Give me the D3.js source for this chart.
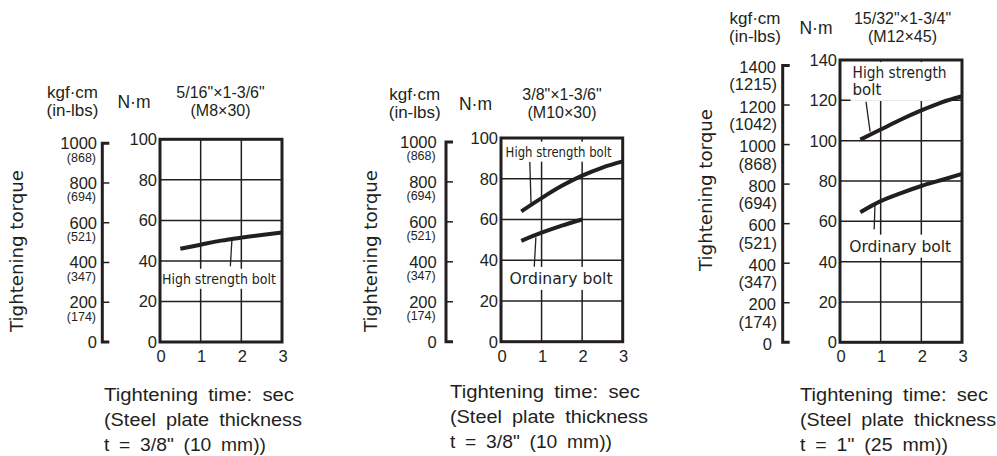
<!DOCTYPE html>
<html lang="en">
<head>
  <title>Tightening torque</title>
  <meta charset="UTF-8">
  <style>
    body { margin: 0; background: #fff; }
    svg { display: block; }
    text { font-family: "Liberation Sans", Arial, sans-serif; fill: #231f20; }
    .hd { font-family: "DejaVu Sans", sans-serif; font-size: 16px; }
  </style>
  <script src="https://cdn.jsdelivr.net/npm/d3@7"></script>
</head>
<body>
<script>
  // tick values
  var timeTicks = [0, 1, 2, 3];
  var nmTicksA = [0, 20, 40, 60, 80, 100];
  var nmTicksB = [0, 20, 40, 60, 80, 100, 120, 140];
  var kgfTicksA = [0, 200, 400, 600, 800, 1000];
  var inLbsA = ["", "(174)", "(347)", "(521)", "(694)", "(868)"];
  var kgfTicksB = [0, 200, 400, 600, 800, 1000, 1200, 1400];
  var inLbsB = ["", "(174)", "(347)", "(521)", "(694)", "(868)", "(1042)", "(1215)"];

  // curves: [time sec, torque N·m]
  var m8High  = [[0.5, 46], [1, 48], [1.5, 50], [2, 51.5], [2.5, 52.8], [3, 54]];
  var m10High = [[0.5, 64], [1, 70.5], [1.5, 76.5], [2, 81.5], [2.5, 85.5], [3, 88.5]];
  var m10Ord  = [[0.5, 49.5], [1, 53.5], [1.5, 57], [2, 60]];
  var m12High = [[0.5, 100.5], [1, 105.5], [1.5, 110.5], [2, 115], [2.5, 119], [3, 122]];
  var m12Ord  = [[0.5, 64.5], [1, 70], [1.5, 74], [2, 77.5], [2.5, 80.5], [3, 83.5]];

  var KGF_TO_NM = 0.0980665;

  var panels = [
    {
      l: 160, r: 282, t: 139.3, b: 342, nmMax: 100, nmTicks: nmTicksA,
      kgf: kgfTicksA, inlbs: inLbsA, big: false, barX: 102.3, kgfRight: 97,
      size: ['5/16"×1-3/6"', "(M8×30)"], hdY: 98, kgfC: 72.5, nmC: 134, sizeC: 220.5,
      yTitle: [16.7, 251],
      foot: ["Tightening time: sec", "(Steel plate thickness", 't = 3/8"  (10 mm))'],
      footW: [190, 198, 162], footX: 104, footY: 401,
      series: [
        { data: m8High, lines: ["High strength bolt"], lx: 1.45, ly: 31.3, anchor: "middle", fs: 14.5, tl: 114,
          lead: [[1.77, 51], [1.73, 37.4]] }
      ]
    },
    {
      l: 501, r: 622.7, t: 138, b: 341.7, nmMax: 100, nmTicks: nmTicksA,
      kgf: kgfTicksA, inlbs: inLbsA, big: false, barX: 446, kgfRight: 436.7,
      size: ['3/8"×1-3/6"', "(M10×30)"], hdY: 100, kgfC: 414.7, nmC: 475.5, sizeC: 562,
      yTitle: [371, 251],
      foot: ["Tightening time: sec", "(Steel plate thickness", 't = 3/8"  (10 mm))'],
      footW: [190, 198, 162], footX: 450, footY: 398,
      series: [
        { data: m10High, lines: ["High strength bolt"], lx: 1.42, ly: 93.3, anchor: "middle", fs: 14, tl: 106,
          lead: [[0.71, 88.2], [0.74, 68.1]] },
        { data: m10Ord, lines: ["Ordinary bolt"], lx: 1.48, ly: 31.2, anchor: "middle", fs: 16, tl: 103,
          lead: [[0.86, 51.2], [0.82, 36.8]] }
      ]
    },
    {
      l: 840, r: 962, t: 60, b: 342.3, nmMax: 140, nmTicks: nmTicksB,
      kgf: kgfTicksB, inlbs: inLbsB, big: true, barX: 782.7, kgfRight: 776,
      size: ['15/32"×1-3/4"', "(M12×45)"], hdY: 24, kgfC: 755, nmC: 816, sizeC: 902.5,
      yTitle: [705.5, 190],
      foot: ["Tightening time: sec", "(Steel plate thickness", 't = 1"  (25 mm))'],
      footW: [188, 196, 148], footX: 800, footY: 401,
      series: [
        { data: m12High, lines: ["High strength", "bolt"], lx: 0.31, ly: 133.7, anchor: "start", fs: 15, tl: 94,
          lead: [[0.64, 119.3], [0.74, 104.5]] },
        { data: m12Ord, lines: ["Ordinary bolt"], lx: 1.48, ly: 47.8, anchor: "middle", fs: 16, tl: 102,
          lead: [[0.86, 68.1], [0.84, 56]] }
      ]
    }
  ];

  var svg = d3.select("body").append("svg")
    .attr("width", 997)
    .attr("height", 456);

  panels.forEach(drawPanel);

  function drawPanel(p) {
    var g = svg.append("g");
    var x = d3.scaleLinear().domain([0, 3]).range([p.l, p.r]);
    var y = d3.scaleLinear().domain([0, p.nmMax]).range([p.b, p.t]);

    // grid
    g.append("g").selectAll("line").data(p.nmTicks.slice(1, -1)).enter().append("line")
      .attr("x1", p.l).attr("x2", p.r)
      .attr("y1", function(d) { return y(d); }).attr("y2", function(d) { return y(d); })
      .attr("stroke", "#231f20").attr("stroke-width", 1.5);
    g.append("g").selectAll("line").data(timeTicks.slice(1, -1)).enter().append("line")
      .attr("y1", p.t).attr("y2", p.b)
      .attr("x1", function(d) { return x(d); }).attr("x2", function(d) { return x(d); })
      .attr("stroke", "#231f20").attr("stroke-width", 1.5);

    // labels with white boxes, drawn over grid
    var line = d3.line().x(function(d) { return x(d[0]); }).y(function(d) { return y(d[1]); })
      .curve(d3.curveMonotoneX);

    p.series.forEach(function(s) {
      var lg = g.append("g");
      var box = lg.append("rect").attr("fill", "#fff");
      var lh = s.fs * 1.12;
      var t = lg.append("text")
        .attr("text-anchor", s.anchor)
        .style("font-family", '"DejaVu Sans", sans-serif')
        .style("font-size", s.fs + "px");
      s.lines.forEach(function(str, i) {
        t.append("tspan")
          .attr("x", x(s.lx))
          .attr("y", y(s.ly) + i * lh + s.fs * 0.36)
          .attr("textLength", i === 0 ? s.tl : null)
          .attr("lengthAdjust", "spacingAndGlyphs")
          .text(str);
      });
      var bb = t.node().getBBox();
      box.attr("x", bb.x - 2).attr("y", bb.y - 2).attr("width", bb.width + 4).attr("height", bb.height + 4);

      g.append("line")
        .attr("x1", x(s.lead[0][0])).attr("y1", y(s.lead[0][1]))
        .attr("x2", x(s.lead[1][0])).attr("y2", y(s.lead[1][1]))
        .attr("stroke", "#231f20").attr("stroke-width", 1.3);

      g.append("path").datum(s.data)
        .attr("d", line)
        .attr("fill", "none")
        .attr("stroke", "#231f20")
        .attr("stroke-width", 4);
    });

    // frame
    g.append("rect")
      .attr("x", p.l).attr("y", p.t)
      .attr("width", p.r - p.l).attr("height", p.b - p.t)
      .attr("fill", "none").attr("stroke", "#231f20").attr("stroke-width", 3);

    // N·m tick labels
    g.append("g").selectAll("text").data(p.nmTicks).enter().append("text")
      .attr("x", p.l - 3)
      .attr("y", function(d) { return y(d) + 6; })
      .attr("text-anchor", "end")
      .style("font-size", "16.5px")
      .text(function(d) { return d; });

    // time tick labels
    g.append("g").selectAll("text").data(timeTicks).enter().append("text")
      .attr("x", function(d) { return x(d) + 1; })
      .attr("y", p.b + 20)
      .attr("text-anchor", "middle")
      .style("font-size", "16.5px")
      .text(function(d) { return d; });

    // kgf·cm axis (same scale, converted)
    var yk = function(v) { return y(v * KGF_TO_NM); };
    var kTop = yk(d3.max(p.kgf)), kBot = yk(0);
    g.append("path")
      .attr("d", "M" + (p.barX + 7) + "," + kTop + "H" + p.barX + "V" + kBot + "H" + (p.barX + 7))
      .attr("fill", "none").attr("stroke", "#231f20").attr("stroke-width", 3);
    g.append("g").selectAll("line").data(p.kgf.slice(1, -1)).enter().append("line")
      .attr("x1", p.barX).attr("x2", p.barX + 7)
      .attr("y1", yk).attr("y2", yk)
      .attr("stroke", "#231f20").attr("stroke-width", 1.5);

    var kl = g.append("g").selectAll("g").data(p.kgf).enter().append("g");
    kl.append("text")
      .attr("x", function(d) { return d === 0 && p.big ? p.kgfRight - 4 : p.kgfRight; })
      .attr("y", function(d) { return yk(d) + (p.big ? 7.5 : 6); })
      .attr("text-anchor", "end")
      .style("font-size", "16.5px")
      .text(function(d) { return d; });
    kl.append("text")
      .attr("x", p.kgfRight + (p.big ? 1 : -1))
      .attr("y", function(d) { return yk(d) + (p.big ? 25 : 18.5); })
      .attr("text-anchor", "end")
      .style("font-size", p.big ? "16.5px" : "12.5px")
      .text(function(d, i) { return p.inlbs[i]; });

    // headers
    var hd = g.append("g").attr("class", "hd").attr("text-anchor", "middle");
    hd.append("text").attr("x", p.kgfC).attr("y", p.hdY).style("font-size", "17px").text("kgf·cm");
    hd.append("text").attr("x", p.kgfC).attr("y", p.hdY + 18).style("font-size", "17px").text("(in-lbs)");
    hd.append("text").attr("x", p.nmC).attr("y", p.hdY + 9.5).style("font-size", "17.5px").text("N·m");
    hd.append("text").attr("x", p.sizeC).attr("y", p.hdY).text(p.size[0]);
    hd.append("text").attr("x", p.sizeC).attr("y", p.hdY + 18).text(p.size[1]);

    // rotated axis title
    g.append("text")
      .attr("class", "hd")
      .attr("transform", "translate(" + (p.yTitle[0] + 6) + "," + p.yTitle[1] + ") rotate(-90)")
      .attr("text-anchor", "middle")
      .style("font-size", "17px")
      .attr("textLength", 162)
      .attr("lengthAdjust", "spacingAndGlyphs")
      .text("Tightening  torque");

    // footer
    var ft = g.append("g").style("font-size", "17.5px").style("word-spacing", "4px").style("fill", "#2a2a2a");
    p.foot.forEach(function(str, i) {
      ft.append("text")
        .attr("x", p.footX)
        .attr("y", p.footY + i * 25)
        .attr("textLength", p.footW[i])
        .attr("lengthAdjust", "spacingAndGlyphs")
        .text(str);
    });
  }
</script>
</body>
</html>
